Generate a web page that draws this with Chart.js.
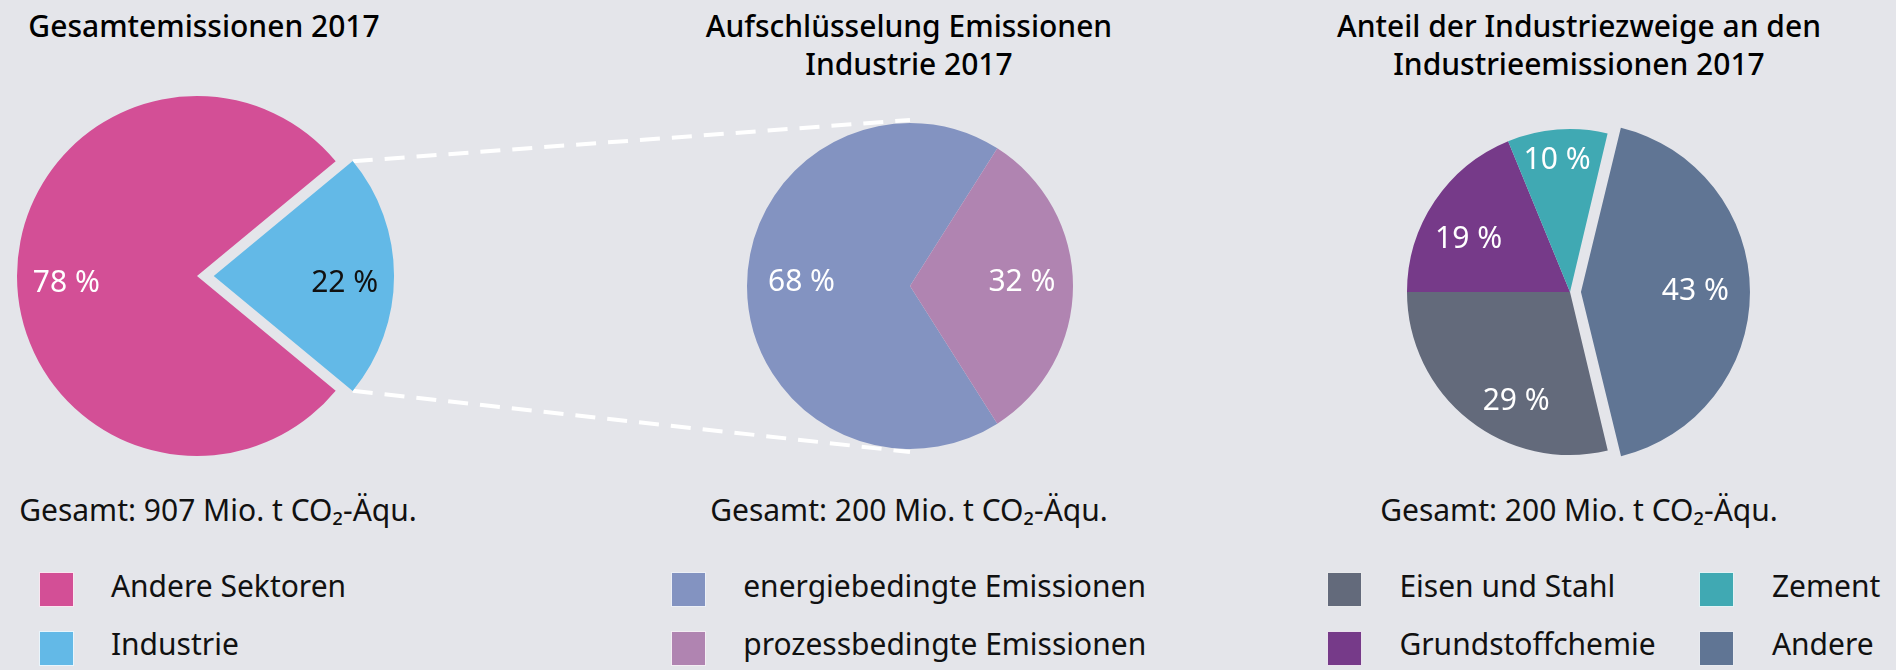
<!DOCTYPE html>
<html>
<head>
<meta charset="utf-8">
<script src="https://cdn.jsdelivr.net/npm/chart.js@4.4.1/dist/chart.umd.min.js"></script>
<style>
html,body{margin:0;padding:0;background:#e4e5ea;overflow:hidden;width:1896px;height:670px;}
#stage{position:absolute;left:0;top:0;width:1896px;height:670px;font-family:"Noto Sans",sans-serif;color:#000;}
.title{position:absolute;font-size:30px;font-weight:500;line-height:38px;text-align:center;width:800px;white-space:nowrap;}
.total{position:absolute;font-size:30px;line-height:38px;text-align:center;width:800px;white-space:nowrap;color:#111;}
.leg{position:absolute;font-size:30px;line-height:38px;white-space:nowrap;color:#111;}
.sw{position:absolute;width:35px;height:35px;box-sizing:border-box;border:1px solid rgba(255,255,255,0.85);}
canvas.pie{position:absolute;z-index:2;}
#links{position:absolute;left:0;top:0;z-index:1;}
</style>
</head>
<body>
<div id="stage"><canvas id="links" width="1896" height="670"></canvas></div>
<script>
// ---------- data ----------
const titles = [
  ['Gesamtemissionen 2017'],
  ['Aufschlüsselung Emissionen', 'Industrie 2017'],
  ['Anteil der Industriezweige an den', 'Industrieemissionen 2017']
];
const totals = [907, 200, 200];
const totalUnit = 'Mio. t CO₂-Äqu.';

const chart1Categories = ['Andere Sektoren', 'Industrie'];
const chart1Values = [78, 22];
const chart1Colors = ['#d34f96', '#63b9e7'];

const chart2Categories = ['energiebedingte Emissionen', 'prozessbedingte Emissionen'];
const chart2Values = [68, 32];
const chart2Colors = ['#8393c1', '#b084b1'];

const chart3Categories = ['Eisen und Stahl', 'Grundstoffchemie', 'Zement', 'Andere'];
const chart3Values = [29, 19, 10, 43];
const chart3Colors = ['#636a7b', '#763a89', '#40a9b3', '#607594'];

// ---------- layout ----------
const layout = [
  { cx: 197, cy: 276, r: 180, size: 440, rotation: 129.6, offsets: [0, 67],
    labelR: [0.726, 0.726], labelNudge: [-1.8, 1.8], labelColors: ['#fff', '#111'],
    titleX: 204, totalX: 218,
    legend: { cols: [[0, 1]], sq: [38.7], tx: [110.9] } },
  { cx: 910, cy: 286, r: 163, size: 400, rotation: 147.6, offsets: [0, 0],
    labelR: [0.667, 0.688], labelNudge: [3.7, -3.6], labelColors: ['#fff', '#fff'],
    titleX: 909, totalX: 909,
    legend: { cols: [[0, 1]], sq: [670.7], tx: [743.2] } },
  { cx: 1570, cy: 292, r: 163, size: 420, rotation: 166.6, offsets: [0, 0, 0, 43.8],
    labelR: [0.73, 0.71, 0.83, 0.665], labelNudge: [-11.4, -5, -1, -2], labelColors: ['#fff', '#fff', '#fff', '#fff'],
    titleX: 1579, totalX: 1579,
    legend: { cols: [[0, 1], [2, 3]], sq: [1326.9, 1699.3], tx: [1399.4, 1771.9] } }
];
const rowsTextTop = [567, 625];
const rowsSqTop = [572, 631];
const labelDy = 3;

const stage = document.getElementById('stage');

function add(cls, text, css) {
  const d = document.createElement('div');
  d.className = cls;
  d.textContent = text;
  Object.assign(d.style, css);
  stage.appendChild(d);
  return d;
}

function arcShift(arc) {
  const mid = (arc.startAngle + arc.endAngle) / 2;
  const off = (arc.options.offset || 0) / 4;
  const fix = 1 - Math.sin(Math.min(Math.PI, arc.circumference || 0));
  const t = off * (1 + fix);
  return [Math.cos(mid) * t, Math.sin(mid) * t, mid];
}

function labelPlugin(L) {
  return {
    id: 'pctLabels',
    afterDatasetsDraw(chart) {
      const ctx = chart.ctx;
      const meta = chart.getDatasetMeta(0);
      const vals = chart.data.datasets[0].data;
      ctx.save();
      ctx.font = '30px "Noto Sans"';
      ctx.textAlign = 'center';
      ctx.textBaseline = 'middle';
      meta.data.forEach((arc, i) => {
        const [sx, sy, mid] = arcShift(arc);
        const a = mid + L.labelNudge[i] * Math.PI / 180;
        const r = arc.outerRadius * L.labelR[i];
        ctx.fillStyle = L.labelColors[i];
        ctx.fillText(vals[i] + ' %', arc.x + sx + Math.cos(a) * r, arc.y + sy + Math.sin(a) * r + labelDy);
      });
      ctx.restore();
    }
  };
}

const sets = [
  [chart1Categories, chart1Values, chart1Colors],
  [chart2Categories, chart2Values, chart2Colors],
  [chart3Categories, chart3Values, chart3Colors]
];

const charts = sets.map(([cats, vals, cols], k) => {
  const L = layout[k];
  titles[k].forEach((line, j) => add('title', line, { left: (L.titleX - 400) + 'px', top: (7 + j * 38) + 'px' }));
  add('total', 'Gesamt: ' + totals[k] + ' ' + totalUnit, { left: (L.totalX - 400) + 'px', top: '491px' });
  L.legend.cols.forEach((col, c) => {
    col.forEach((idx, row) => {
      add('sw', '', { left: L.legend.sq[c] + 'px', top: rowsSqTop[row] + 'px', background: cols[idx] });
      add('leg', cats[idx], { left: L.legend.tx[c] + 'px', top: rowsTextTop[row] + 'px' });
    });
  });
  const cv = document.createElement('canvas');
  cv.className = 'pie';
  cv.width = L.size; cv.height = L.size;
  cv.style.left = (L.cx - L.size / 2) + 'px';
  cv.style.top = (L.cy - L.size / 2) + 'px';
  stage.appendChild(cv);
  return new Chart(cv, {
    type: 'pie',
    data: { labels: cats, datasets: [{ data: vals, backgroundColor: cols, borderWidth: 0, offset: L.offsets, hoverOffset: 0 }] },
    options: {
      responsive: false, animation: false, events: [],
      radius: L.r, rotation: L.rotation,
      layout: { padding: 0 },
      plugins: { legend: { display: false }, tooltip: { enabled: false } }
    },
    plugins: [labelPlugin(L)]
  });
});

// dashed connector lines from the "Industrie" slice to the second pie
(function () {
  const L1 = layout[0], L2 = layout[1];
  const arc = charts[0].getDatasetMeta(0).data[1];
  const [sx, sy] = arcShift(arc);
  const ox = (L1.cx - L1.size / 2) + arc.x + sx;
  const oy = (L1.cy - L1.size / 2) + arc.y + sy;
  const R = arc.outerRadius;
  const p1 = [ox + Math.cos(arc.startAngle) * R, oy + Math.sin(arc.startAngle) * R];
  const p2 = [ox + Math.cos(arc.endAngle) * R, oy + Math.sin(arc.endAngle) * R];
  const arc2 = charts[1].getDatasetMeta(0).data[0];
  const q1 = [L2.cx, L2.cy - arc2.outerRadius - 3];
  const q2 = [L2.cx, L2.cy + arc2.outerRadius + 3];
  const ctx = document.getElementById('links').getContext('2d');
  ctx.strokeStyle = '#ffffff';
  ctx.lineWidth = 4;
  ctx.setLineDash([20, 12]);
  ctx.beginPath();
  ctx.moveTo(p1[0], p1[1]); ctx.lineTo(q1[0], q1[1]);
  ctx.moveTo(p2[0], p2[1]); ctx.lineTo(q2[0], q2[1]);
  ctx.stroke();
})();
</script>
</body>
</html>
